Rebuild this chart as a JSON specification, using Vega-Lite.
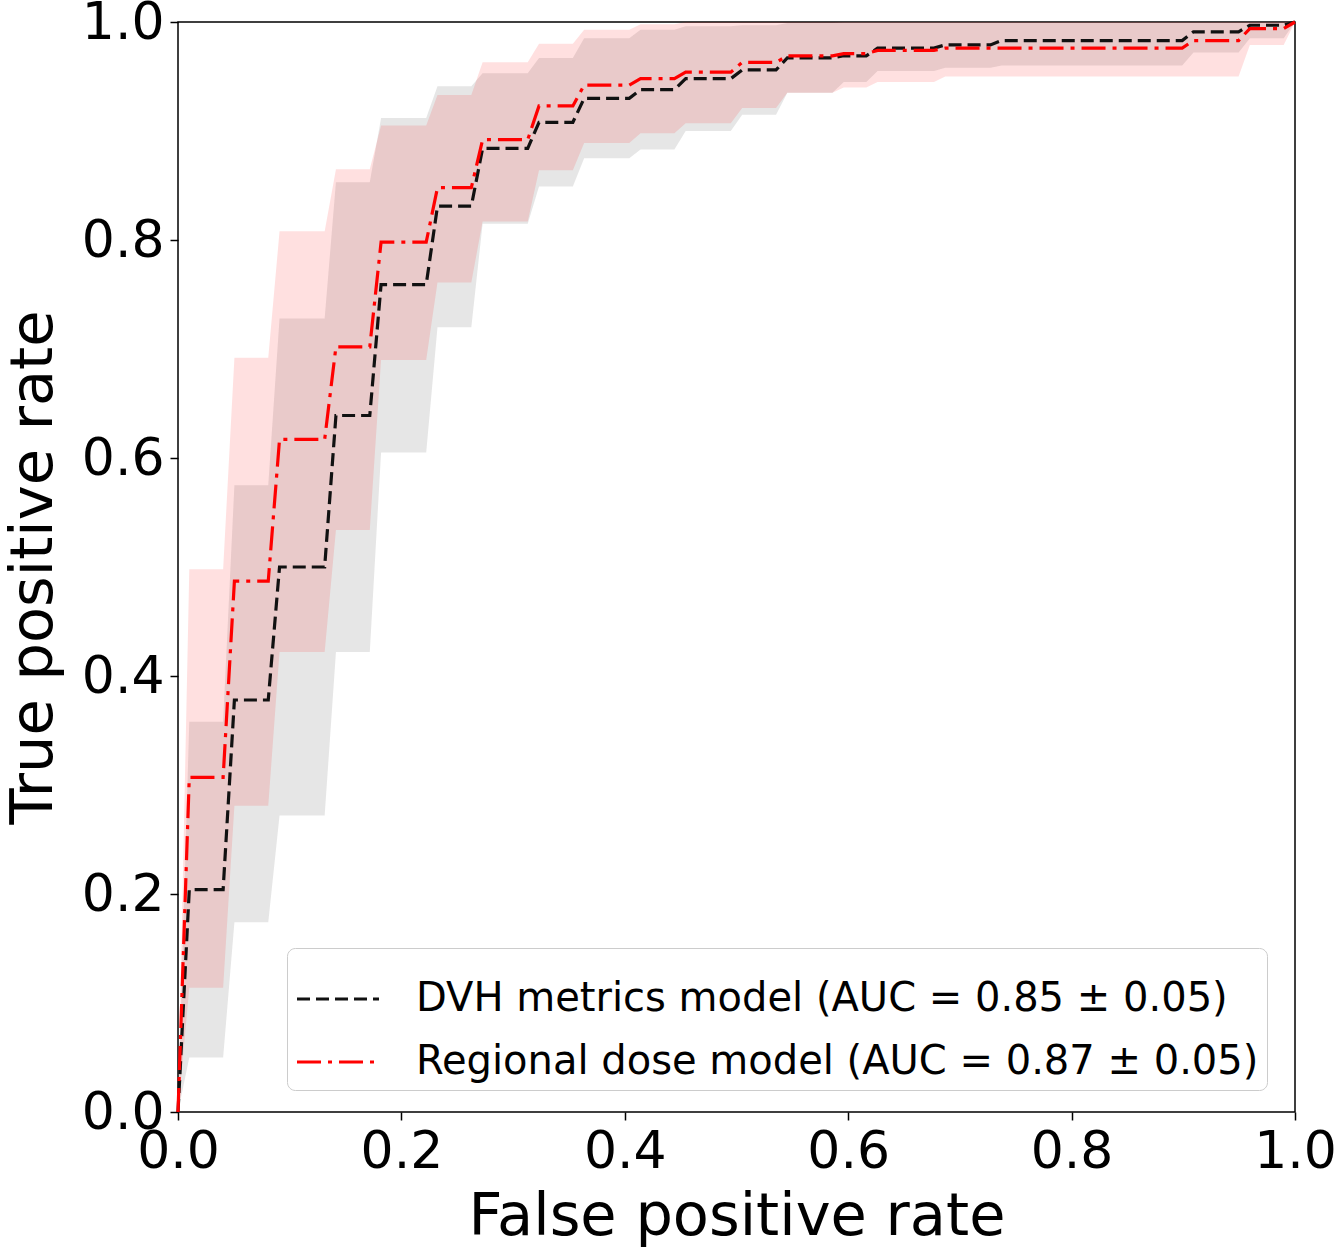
{
  "$schema": "https://vega.github.io/schema/vega-lite/v6.json",
  "width": 1117,
  "height": 1090,
  "autosize": "none",
  "padding": {"left": 178, "top": 22, "right": 40, "bottom": 136},
  "background": "white",
  "config": {
    "view": {"stroke": "black", "strokeWidth": 1.5},
    "font": "DejaVu Sans",
    "axis": {
      "grid": false,
      "domain": false,
      "labelFlush": false,
      "labelOverlap": false,
      "labelFont": "DejaVu Sans",
      "labelFontSize": 52,
      "labelColor": "black",
      "tickColor": "black",
      "tickSize": 8,
      "tickWidth": 1.5,
      "labelPadding": 6,
      "titleFont": "DejaVu Sans",
      "titleFontSize": 59,
      "titleFontWeight": "normal",
      "titleColor": "black"
    },
    "legend": {
      "orient": "none",
      "legendX": 109,
      "legendY": 926,
      "padding": 8,
      "fillColor": "rgba(255,255,255,0.8)",
      "strokeColor": "#cccccc",
      "cornerRadius": 8,
      "symbolType": "stroke",
      "symbolSize": 6724,
      "symbolStrokeWidth": 3.2,
      "labelFont": "DejaVu Sans",
      "labelFontSize": 40,
      "labelColor": "black",
      "labelOffset": 35,
      "labelLimit": 1200,
      "rowPadding": 0
    }
  },
  "data": {
    "values": [
      {"model": "DVH", "fpr": 0, "tpr": 0, "lo": 0, "hi": 0},
      {"model": "DVH", "fpr": 0.0101, "tpr": 0.204, "lo": 0.050, "hi": 0.358},
      {"model": "DVH", "fpr": 0.0404, "tpr": 0.204, "lo": 0.050, "hi": 0.358},
      {"model": "DVH", "fpr": 0.0505, "tpr": 0.378, "lo": 0.174, "hi": 0.575},
      {"model": "DVH", "fpr": 0.0808, "tpr": 0.378, "lo": 0.174, "hi": 0.575},
      {"model": "DVH", "fpr": 0.0909, "tpr": 0.500, "lo": 0.272, "hi": 0.728},
      {"model": "DVH", "fpr": 0.1313, "tpr": 0.500, "lo": 0.272, "hi": 0.728},
      {"model": "DVH", "fpr": 0.1414, "tpr": 0.639, "lo": 0.422, "hi": 0.853},
      {"model": "DVH", "fpr": 0.1717, "tpr": 0.639, "lo": 0.422, "hi": 0.853},
      {"model": "DVH", "fpr": 0.1818, "tpr": 0.759, "lo": 0.605, "hi": 0.912},
      {"model": "DVH", "fpr": 0.2222, "tpr": 0.759, "lo": 0.605, "hi": 0.912},
      {"model": "DVH", "fpr": 0.2323, "tpr": 0.831, "lo": 0.720, "hi": 0.941},
      {"model": "DVH", "fpr": 0.2626, "tpr": 0.831, "lo": 0.720, "hi": 0.941},
      {"model": "DVH", "fpr": 0.2727, "tpr": 0.884, "lo": 0.815, "hi": 0.953},
      {"model": "DVH", "fpr": 0.3131, "tpr": 0.884, "lo": 0.815, "hi": 0.953},
      {"model": "DVH", "fpr": 0.3232, "tpr": 0.908, "lo": 0.849, "hi": 0.967},
      {"model": "DVH", "fpr": 0.3535, "tpr": 0.908, "lo": 0.849, "hi": 0.967},
      {"model": "DVH", "fpr": 0.3636, "tpr": 0.930, "lo": 0.875, "hi": 0.985},
      {"model": "DVH", "fpr": 0.4040, "tpr": 0.930, "lo": 0.875, "hi": 0.985},
      {"model": "DVH", "fpr": 0.4141, "tpr": 0.938, "lo": 0.883, "hi": 0.993},
      {"model": "DVH", "fpr": 0.4444, "tpr": 0.938, "lo": 0.883, "hi": 0.993},
      {"model": "DVH", "fpr": 0.4545, "tpr": 0.948, "lo": 0.900, "hi": 0.996},
      {"model": "DVH", "fpr": 0.4949, "tpr": 0.948, "lo": 0.900, "hi": 0.996},
      {"model": "DVH", "fpr": 0.5051, "tpr": 0.956, "lo": 0.915, "hi": 0.997},
      {"model": "DVH", "fpr": 0.5354, "tpr": 0.956, "lo": 0.915, "hi": 0.997},
      {"model": "DVH", "fpr": 0.5455, "tpr": 0.967, "lo": 0.935, "hi": 0.999},
      {"model": "DVH", "fpr": 0.5859, "tpr": 0.967, "lo": 0.935, "hi": 0.999},
      {"model": "DVH", "fpr": 0.5960, "tpr": 0.969, "lo": 0.945, "hi": 1.0},
      {"model": "DVH", "fpr": 0.6162, "tpr": 0.969, "lo": 0.945, "hi": 1.0},
      {"model": "DVH", "fpr": 0.6263, "tpr": 0.976, "lo": 0.955, "hi": 1.0},
      {"model": "DVH", "fpr": 0.6768, "tpr": 0.976, "lo": 0.955, "hi": 1.0},
      {"model": "DVH", "fpr": 0.6869, "tpr": 0.979, "lo": 0.958, "hi": 1.0},
      {"model": "DVH", "fpr": 0.7273, "tpr": 0.979, "lo": 0.958, "hi": 1.0},
      {"model": "DVH", "fpr": 0.7374, "tpr": 0.983, "lo": 0.960, "hi": 1.0},
      {"model": "DVH", "fpr": 0.8990, "tpr": 0.983, "lo": 0.960, "hi": 1.0},
      {"model": "DVH", "fpr": 0.9091, "tpr": 0.991, "lo": 0.972, "hi": 1.0},
      {"model": "DVH", "fpr": 0.9495, "tpr": 0.991, "lo": 0.972, "hi": 1.0},
      {"model": "DVH", "fpr": 0.9596, "tpr": 0.997, "lo": 0.985, "hi": 1.0},
      {"model": "DVH", "fpr": 0.9899, "tpr": 0.997, "lo": 0.985, "hi": 1.0},
      {"model": "DVH", "fpr": 1.0, "tpr": 1.0, "lo": 1.0, "hi": 1.0},
      {"model": "Regional", "fpr": 0, "tpr": 0, "lo": 0, "hi": 0},
      {"model": "Regional", "fpr": 0.0101, "tpr": 0.307, "lo": 0.114, "hi": 0.498},
      {"model": "Regional", "fpr": 0.0404, "tpr": 0.307, "lo": 0.114, "hi": 0.498},
      {"model": "Regional", "fpr": 0.0505, "tpr": 0.487, "lo": 0.281, "hi": 0.692},
      {"model": "Regional", "fpr": 0.0808, "tpr": 0.487, "lo": 0.281, "hi": 0.692},
      {"model": "Regional", "fpr": 0.0909, "tpr": 0.617, "lo": 0.422, "hi": 0.808},
      {"model": "Regional", "fpr": 0.1313, "tpr": 0.617, "lo": 0.422, "hi": 0.808},
      {"model": "Regional", "fpr": 0.1414, "tpr": 0.702, "lo": 0.534, "hi": 0.865},
      {"model": "Regional", "fpr": 0.1717, "tpr": 0.702, "lo": 0.534, "hi": 0.865},
      {"model": "Regional", "fpr": 0.1818, "tpr": 0.798, "lo": 0.690, "hi": 0.905},
      {"model": "Regional", "fpr": 0.2222, "tpr": 0.798, "lo": 0.690, "hi": 0.905},
      {"model": "Regional", "fpr": 0.2323, "tpr": 0.848, "lo": 0.761, "hi": 0.933},
      {"model": "Regional", "fpr": 0.2626, "tpr": 0.848, "lo": 0.761, "hi": 0.933},
      {"model": "Regional", "fpr": 0.2727, "tpr": 0.892, "lo": 0.817, "hi": 0.963},
      {"model": "Regional", "fpr": 0.3131, "tpr": 0.892, "lo": 0.817, "hi": 0.963},
      {"model": "Regional", "fpr": 0.3232, "tpr": 0.923, "lo": 0.864, "hi": 0.980},
      {"model": "Regional", "fpr": 0.3535, "tpr": 0.923, "lo": 0.864, "hi": 0.980},
      {"model": "Regional", "fpr": 0.3636, "tpr": 0.942, "lo": 0.889, "hi": 0.993},
      {"model": "Regional", "fpr": 0.4040, "tpr": 0.942, "lo": 0.889, "hi": 0.993},
      {"model": "Regional", "fpr": 0.4141, "tpr": 0.948, "lo": 0.898, "hi": 0.998},
      {"model": "Regional", "fpr": 0.4444, "tpr": 0.948, "lo": 0.898, "hi": 0.998},
      {"model": "Regional", "fpr": 0.4545, "tpr": 0.954, "lo": 0.907, "hi": 1.0},
      {"model": "Regional", "fpr": 0.4949, "tpr": 0.954, "lo": 0.907, "hi": 1.0},
      {"model": "Regional", "fpr": 0.5051, "tpr": 0.963, "lo": 0.921, "hi": 1.0},
      {"model": "Regional", "fpr": 0.5354, "tpr": 0.963, "lo": 0.921, "hi": 1.0},
      {"model": "Regional", "fpr": 0.5455, "tpr": 0.969, "lo": 0.935, "hi": 1.0},
      {"model": "Regional", "fpr": 0.5859, "tpr": 0.969, "lo": 0.935, "hi": 1.0},
      {"model": "Regional", "fpr": 0.5960, "tpr": 0.971, "lo": 0.940, "hi": 1.0},
      {"model": "Regional", "fpr": 0.6162, "tpr": 0.971, "lo": 0.940, "hi": 1.0},
      {"model": "Regional", "fpr": 0.6263, "tpr": 0.974, "lo": 0.945, "hi": 1.0},
      {"model": "Regional", "fpr": 0.6768, "tpr": 0.974, "lo": 0.945, "hi": 1.0},
      {"model": "Regional", "fpr": 0.6869, "tpr": 0.976, "lo": 0.950, "hi": 1.0},
      {"model": "Regional", "fpr": 0.8990, "tpr": 0.976, "lo": 0.950, "hi": 1.0},
      {"model": "Regional", "fpr": 0.9091, "tpr": 0.983, "lo": 0.950, "hi": 1.0},
      {"model": "Regional", "fpr": 0.9495, "tpr": 0.983, "lo": 0.950, "hi": 1.0},
      {"model": "Regional", "fpr": 0.9596, "tpr": 0.994, "lo": 0.979, "hi": 1.0},
      {"model": "Regional", "fpr": 0.9899, "tpr": 0.994, "lo": 0.979, "hi": 1.0},
      {"model": "Regional", "fpr": 1.0, "tpr": 1.0, "lo": 1.0, "hi": 1.0}
    ]
  },
  "encoding": {
    "x": {
      "field": "fpr",
      "type": "quantitative",
      "title": "False positive rate",
      "scale": {"domain": [0, 1], "nice": false},
      "axis": {"values": [0, 0.2, 0.4, 0.6, 0.8, 1.0], "format": ".1f", "titlePadding": 10}
    }
  },
  "layer": [
    {
      "transform": [{"filter": "datum.model == 'DVH'"}],
      "mark": {"type": "area", "color": "#808080", "opacity": 0.2},
      "encoding": {
        "y": {
          "field": "lo",
          "type": "quantitative",
          "title": "True positive rate",
          "scale": {"domain": [0, 1], "nice": false},
          "axis": {"values": [0, 0.2, 0.4, 0.6, 0.8, 1.0], "format": ".1f", "titlePadding": 18}
        },
        "y2": {"field": "hi"}
      }
    },
    {
      "transform": [{"filter": "datum.model == 'Regional'"}],
      "mark": {"type": "area", "color": "#ff0000", "opacity": 0.12},
      "encoding": {
        "y": {"field": "lo", "type": "quantitative"},
        "y2": {"field": "hi"}
      }
    },
    {
      "mark": {"type": "line", "strokeWidth": 3.2},
      "encoding": {
        "y": {"field": "tpr", "type": "quantitative"},
        "color": {
          "field": "model",
          "type": "nominal",
          "title": null,
          "scale": {"domain": ["DVH", "Regional"], "range": ["#111111", "#ff0000"]},
          "legend": {
            "labelExpr": "datum.value == 'DVH' ? 'DVH metrics model (AUC = 0.85 ± 0.05)' : 'Regional dose model (AUC = 0.87 ± 0.05)'"
          }
        },
        "strokeDash": {
          "field": "model",
          "type": "nominal",
          "title": null,
          "scale": {"domain": ["DVH", "Regional"], "range": [[13, 6], [24, 7, 4, 7]]},
          "legend": {
            "labelExpr": "datum.value == 'DVH' ? 'DVH metrics model (AUC = 0.85 ± 0.05)' : 'Regional dose model (AUC = 0.87 ± 0.05)'"
          }
        }
      }
    }
  ]
}
